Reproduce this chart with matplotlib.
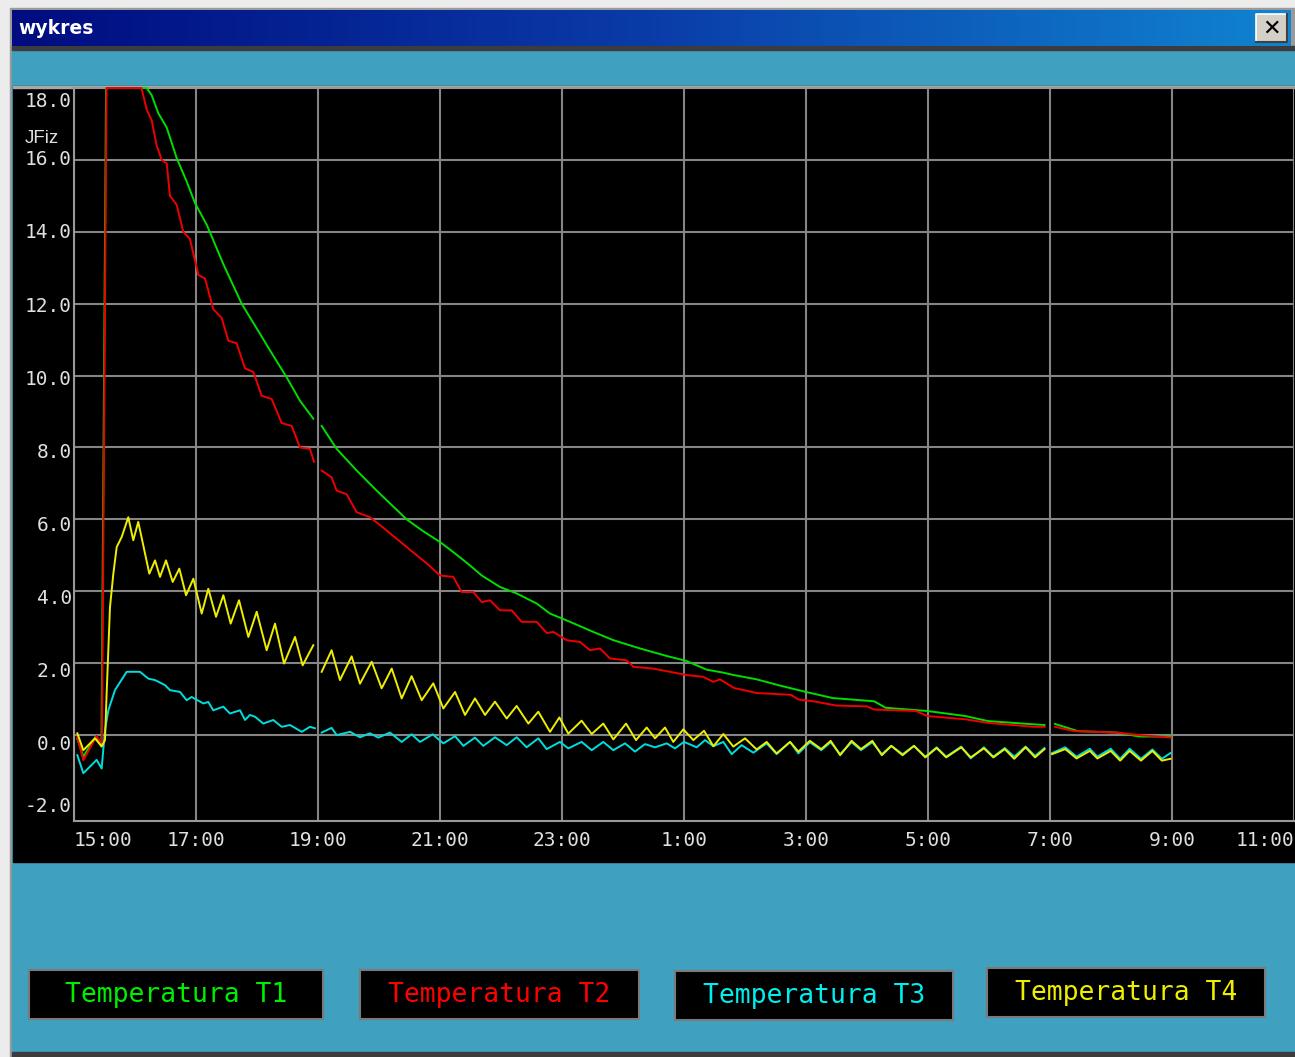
import numpy as np
import matplotlib
matplotlib.use('Agg')
import matplotlib.pyplot as plt
from matplotlib.patches import Rectangle
from matplotlib.colors import LinearSegmentedColormap
from matplotlib.transforms import offset_copy

nan = np.nan

# minutes after 15:00 (nan = gap in the log)
t1_min = [
    3.3, 9.2, 21, 27, 31.5, 71.5, 76.4, 82.9, 91.2, 101,
    110.8, 119, 130.5, 146.9, 164.9, 183, 192.8, 209.2, 222.3, 235.4,
    240, 243.6, 258.4, 278, 297.7, 327.2, 343, 360, 373.1, 389.5,
    401, 419, 435.4, 455.1, 468.2, 487.9, 510.8, 530.5, 556.7, 583,
    602.6, 622.3, 638, 649, 671.6, 694, 720, 746.2, 787.1, 798.3,
    839.3, 876.6, 898.9, 943.6, 954.6, 958, 964.9, 987.5, 1025.6, 1048,
    1078.8]
t1_val = [
    -0.1, -0.6, -0.05, -0.3, 18.0, 18.0, 17.8, 17.3, 16.9, 16.05,
    15.4, 14.8, 14.2, 13.1, 12.0, 11.16, 10.7, 9.95, 9.3, 8.8,
    nan, 8.6, 7.96, 7.36, 6.8, 6.0, 5.68, 5.37, 5.09, 4.72,
    4.44, 4.12, 3.94, 3.66, 3.38, 3.15, 2.87, 2.64, 2.41, 2.2,
    2.06, 1.82, 1.74, 1.67, 1.55, 1.38, 1.2, 1.03, 0.94, 0.76,
    0.67, 0.53, 0.39, 0.30, 0.28, nan, 0.31, 0.11, 0.07, -0.04,
    -0.04]

t2_min = [
    3.3, 9.2, 22.3, 26, 27.5, 32, 66.4, 71.5, 76.4, 81.3,
    86.3, 91.2, 94.4, 101, 107.5, 114, 120.7, 122.3, 128.9, 137,
    145.3, 151.8, 160, 168.2, 176.4, 184.6, 194.4, 204.3, 214.1, 222.3,
    232.1, 236.1, 240, 243.6, 253.4, 258.4, 268.2, 278, 291.1, 305,
    320, 335, 348, 360, 373.1, 381.3, 392.8, 401, 409.2, 419,
    430.5, 440.3, 455.1, 465, 471.5, 484.6, 497.7, 507.5, 517.4, 527.2,
    543.6, 550.2, 569.8, 586.2, 602.6, 619, 628.9, 635.4, 649.2, 671.6,
    705.2, 712.6, 727.4, 749.9, 779.7, 787.1, 828.1, 839.3, 876.6, 898.9,
    943.6, 954.8, 958, 964.9, 983.7, 1025.6, 1048, 1078.8]
t2_val = [
    -0.05, -0.7, -0.02, -0.2, -0.2, 18.0, 18.0, 17.4, 17.1, 16.4,
    16.0, 15.9, 15.0, 14.75, 14.0, 13.8, 13.0, 12.8, 12.7, 11.85,
    11.6, 10.97, 10.9, 10.2, 10.1, 9.44, 9.35, 8.68, 8.6, 8.0,
    7.96, 7.6, nan, 7.36, 7.17, 6.8, 6.7, 6.2, 6.06, 5.75,
    5.4, 5.05, 4.75, 4.44, 4.4, 3.98, 3.98, 3.70, 3.75, 3.47,
    3.47, 3.15, 3.15, 2.84, 2.87, 2.64, 2.59, 2.36, 2.41, 2.13,
    2.08, 1.9, 1.85, 1.76, 1.67, 1.62, 1.48, 1.55, 1.31, 1.17,
    1.12, 0.99, 0.94, 0.82, 0.80, 0.71, 0.67, 0.53, 0.44, 0.34,
    0.23, 0.23, nan, 0.23, 0.11, 0.07, 0.0, -0.07]

t3_min = [
    3.3, 9.2, 22.3, 27.2, 30.5, 33.8, 40.3, 51.8, 64.9, 73.1,
    79.7, 89.5, 94.4, 104.3, 110.8, 115.7, 127.2, 132.1, 137, 146.9,
    153.4, 163.3, 168.2, 173.1, 178, 186.2, 196, 204.3, 212.5, 224,
    232.1, 237, 240, 243.6, 253.4, 258.4, 271.5, 281.3, 291.1, 299.3,
    310.8, 322.3, 332.1, 340.3, 352.8, 363.3, 374.8, 383, 394.4, 402.6,
    414.1, 425.6, 435.4, 445.2, 456.7, 464.9, 478, 486.2, 499.3, 509.2,
    520.6, 530.5, 542, 551.8, 561.6, 571.5, 583, 591.1, 600, 612.5,
    620.7, 628.9, 638.7, 646.9, 656.7, 668.2, 681.3, 691.1, 704.3, 712.5,
    723.8, 735, 744.3, 753.6, 764.8, 774.1, 785.2, 794.6, 803.9, 815,
    826.2, 837.4, 848.5, 857.9, 872.7, 882, 895, 904.3, 915.5, 924.8,
    936, 945.3, 954.6, 958, 962, 975, 986.1, 999.2, 1006.6, 1019.7,
    1029, 1038.3, 1049.5, 1060.7, 1070, 1078.5]
t3_val = [
    -0.56, -1.06, -0.69, -0.93, 0.14, 0.69, 1.25, 1.76, 1.76, 1.57,
    1.53, 1.39, 1.25, 1.20, 0.97, 1.06, 0.88, 0.92, 0.69, 0.79,
    0.6, 0.69, 0.42, 0.56, 0.51, 0.32, 0.42, 0.23, 0.28, 0.09,
    0.23, 0.19, nan, 0.07, 0.2, 0.0, 0.09, -0.06, 0.05, -0.07,
    0.07, -0.19, 0.02, -0.19, 0.02, -0.23, -0.03, -0.3, -0.07, -0.3,
    -0.06, -0.28, -0.06, -0.34, -0.09, -0.39, -0.19, -0.37, -0.19, -0.42,
    -0.19, -0.42, -0.23, -0.46, -0.25, -0.34, -0.23, -0.37, -0.19, -0.34,
    -0.14, -0.31, -0.19, -0.53, -0.28, -0.49, -0.23, -0.53, -0.19, -0.51,
    -0.2, -0.42, -0.2, -0.53, -0.2, -0.42, -0.2, -0.53, -0.3, -0.53,
    -0.3, -0.6, -0.34, -0.6, -0.32, -0.65, -0.34, -0.6, -0.36, -0.6,
    -0.32, -0.58, -0.36, nan, -0.5, -0.34, -0.6, -0.38, -0.6, -0.38,
    -0.66, -0.38, -0.66, -0.4, -0.66, -0.5]

t4_min = [
    3.3, 9.2, 20.7, 27.2, 30.5, 32.1, 35.4, 38.7, 42, 46.9,
    53.4, 58.3, 63.2, 74.1, 79.7, 84.6, 90.5, 97.1, 103.6, 110.2,
    117.4, 125.6, 132.1, 139.7, 146.9, 154.1, 162.3, 171.5, 179.7, 189.5,
    197.7, 206.6, 217.4, 224.9, 235.4, 240, 243.6, 253.4, 261.6, 273.1,
    281.3, 292.8, 302.6, 312.5, 322.3, 332.1, 342, 353.4, 363.3, 374.8,
    384.6, 394.4, 404.3, 414.1, 425.6, 435.4, 446.9, 456.7, 468.2, 477.4,
    486.2, 499.3, 509.2, 520.6, 530.5, 543, 552.8, 563.3, 571.5, 581.3,
    589.5, 599.3, 609.2, 619.7, 628.9, 638.7, 648.5, 660, 671.5, 681.3,
    691.1, 704.3, 712.5, 723.8, 735, 744.3, 753.6, 764.8, 774.1, 785.2,
    794.6, 803.9, 815, 826.2, 837.4, 848.5, 857.9, 872.7, 882, 895,
    904.3, 915.5, 924.8, 936, 945.3, 954.6, 958, 962, 975, 986.1,
    999.2, 1006.6, 1019.7, 1029, 1038.3, 1049.5, 1060.7, 1070, 1078.5]
t4_val = [
    0.05, -0.42, -0.09, -0.32, -0.14, 1.16, 3.56, 4.49, 5.23, 5.51,
    6.06, 5.42, 5.93, 4.49, 4.86, 4.40, 4.86, 4.26, 4.63, 3.89,
    4.35, 3.38, 4.07, 3.29, 3.89, 3.10, 3.75, 2.73, 3.43, 2.36,
    3.10, 1.99, 2.73, 1.94, 2.5, nan, 1.76, 2.36, 1.53, 2.19,
    1.43, 2.04, 1.30, 1.85, 1.02, 1.64, 0.97, 1.44, 0.74, 1.20,
    0.56, 1.02, 0.56, 0.93, 0.46, 0.81, 0.32, 0.65, 0.09, 0.49,
    0.04, 0.4, 0.03, 0.32, -0.12, 0.32, -0.14, 0.21, -0.09, 0.21,
    -0.19, 0.16, -0.14, 0.12, -0.31, 0.03, -0.32, -0.09, -0.4, -0.19,
    -0.51, -0.19, -0.46, -0.16, -0.39, -0.16, -0.56, -0.16, -0.39, -0.16,
    -0.56, -0.3, -0.56, -0.3, -0.62, -0.36, -0.62, -0.34, -0.62, -0.37,
    -0.62, -0.39, -0.66, -0.34, -0.62, -0.39, nan, -0.53, -0.39, -0.65,
    -0.44, -0.65, -0.44, -0.71, -0.44, -0.71, -0.44, -0.71, -0.66]

series_names = ['Temperatura T1', 'Temperatura T2', 'Temperatura T3', 'Temperatura T4']
line_colors = ['#00dd00', '#ee0000', '#00dddd', '#eeee00']
text_colors = ['#00ee00', '#ff0000', '#00eeee', '#eeee00']
hour_labels = ['15:00', '17:00', '19:00', '21:00', '23:00', '1:00',
               '3:00', '5:00', '7:00', '9:00', '11:00']
y_grid = [16, 14, 12, 10, 8, 6, 4, 2, 0]
y_labels = ['18.0', '16.0', '14.0', '12.0', '10.0', '8.0', '6.0', '4.0', '2.0', '0.0', '-2.0']

teal = '#40a0c0'
mono = 'DejaVu Sans Mono'

fig = plt.figure(figsize=(12.95, 10.57), dpi=100, facecolor='#ececec')

# window frame drawn in pixel coordinates
bg = fig.add_axes([0, 0, 1, 1])
bg.set_xlim(0, 1295)
bg.set_ylim(1057, 0)
bg.axis('off')
bg.add_patch(Rectangle((10, 8), 1285, 1049, color='#9a9a9a'))
bg.add_patch(Rectangle((12, 46), 1283, 1008, color=teal))
bg.add_patch(Rectangle((12, 46), 1283, 4, color='#3c3c3c'))
bg.add_patch(Rectangle((13, 86), 1282, 776, color='black'))
bg.add_patch(Rectangle((13, 86), 1282, 2, color='#a8a8a8'))
bg.add_patch(Rectangle((12, 1052), 1283, 5, color='#3c3c3c'))
grad = np.linspace(0, 1, 256).reshape(1, -1)
title_cmap = LinearSegmentedColormap.from_list('tb', ['#000c80', '#0a3ca8', '#1084d0'])
bg.imshow(grad, extent=[12, 1291, 46, 10], aspect='auto', cmap=title_cmap, zorder=2)
bg.text(18, 29, 'wykres', color='white', fontsize=13.5, fontweight='bold',
        ha='left', va='center', zorder=3)
# close button
bg.add_patch(Rectangle((1256, 14), 31, 28, facecolor='#d4d0c8', edgecolor='none', zorder=3))
bg.plot([1256, 1256, 1287], [42, 14, 14], color='white', lw=1.2, zorder=4)
bg.plot([1256, 1287, 1287], [42, 42, 14], color='#404040', lw=1.5, zorder=4)
bg.text(1271.5, 28.5, '\u2715', color='black', fontsize=16, fontweight='bold',
        ha='center', va='center', zorder=5)

# legend boxes
box_left = [29, 360, 675, 987]
box_width = [294, 279, 278, 278]
box_top = [970, 970, 971, 968]
for name, col, x0, w, y0 in zip(series_names, text_colors, box_left, box_width, box_top):
    bg.add_patch(Rectangle((x0, y0), w, 49, facecolor='black', edgecolor='#7a7a7a', lw=1.5))
    bg.text(x0 + w / 2, y0 + 25, name, color=col, family=mono, fontsize=19,
            ha='center', va='center')

# plot area
ax = fig.add_axes([74 / 1295, (1057 - 821) / 1057, 1220 / 1295, 733 / 1057])
ax.set_facecolor('black')
for t, v, c in zip([t1_min, t2_min, t3_min, t4_min],
                   [t1_val, t2_val, t3_val, t4_val], line_colors):
    ax.plot(np.array(t) / 60.0, v, color=c, lw=1.4, clip_on=False, zorder=3)

ax.set_xlim(0, 20)
ax.set_ylim(-2.39, 18.0)
ax.set_xticks(np.arange(len(hour_labels)) * 2)
ax.set_xticklabels(hour_labels, family=mono, fontsize=14, color='#e0e0e0')
xl = ax.get_xticklabels()
xl[0].set_ha('left')
xl[-1].set_ha('right')
ax.set_yticks(y_grid)
ax.set_yticklabels([])
ax.tick_params(length=0, pad=7)
ax.grid(True, color='#858585', lw=1.5)
ax.set_axisbelow(True)
for side in ['left', 'bottom', 'top']:
    ax.spines[side].set_color('#999999')
    ax.spines[side].set_linewidth(1.5)
ax.spines['right'].set_visible(False)

# y labels sit slightly below their grid lines, as on the original
ylab_tr = offset_copy(ax.get_yaxis_transform(), fig=fig, x=-2, y=0, units='dots')
label_vals = [18] + y_grid + [-2]
for val, txt in zip(label_vals, y_labels):
    if val == 18:
        pos = 17.62
    elif val == -2:
        pos = -2.0
    else:
        pos = val - (16 - val) * 0.0167
    ax.text(0, pos, txt, transform=ylab_tr, family=mono, fontsize=14,
            color='#e0e0e0', ha='right', va='center', clip_on=False)
ax.text(-49 / 1220, 16.6, 'JFiz', transform=ax.get_yaxis_transform(),
        family='Liberation Sans', fontsize=13.5, color='#e0e0e0',
        ha='left', va='center')

fig.savefig('out.png', dpi=100, facecolor=fig.get_facecolor())
